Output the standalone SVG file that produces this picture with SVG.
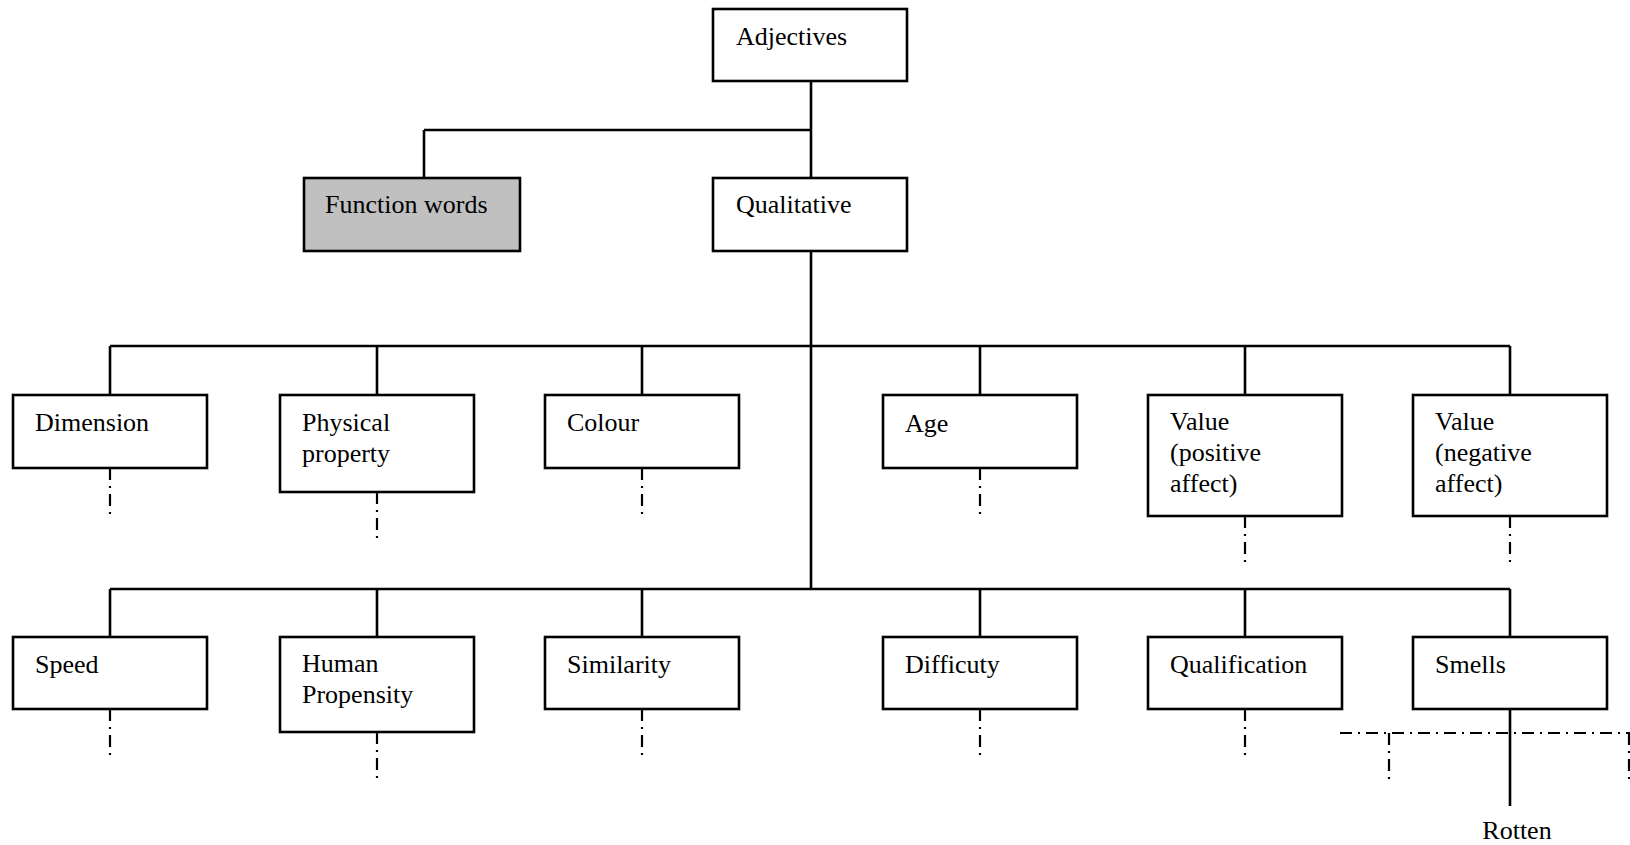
<svg xmlns="http://www.w3.org/2000/svg" width="1630" height="845" viewBox="0 0 1630 845">
<style>
.box{fill:#fff;stroke:#000;stroke-width:2.6}
.grey{fill:#c0c0c0}
.ln{stroke:#000;stroke-width:2.6;fill:none}
.dd{stroke:#000;stroke-width:2.2;fill:none;stroke-dasharray:12 6 2 6}
text{font-family:"Liberation Serif","Times New Roman",serif;font-size:26px;fill:#000}
</style>
<rect width="1630" height="845" fill="#fff"/>
<g id="connectors">
<path class="ln" d="M811 81V178M424 130H811M424 130V178M811 251V589M110 346H1510M110 346V395M377 346V395M642 346V395M980 346V395M1245 346V395M1510 346V395M110 589H1510M110 589V637M377 589V637M642 589V637M980 589V637M1245 589V637M1510 589V637M1510 709V806"/>
<path class="dd" d="M110 468V517M377 492V541M642 468V517M980 468V517M1245 516V565M1510 516V565M110 709V758M377 732V782M642 709V758M980 709V758M1245 709V758M1340 733H1630M1389 733V782M1629 733V782"/>
</g>
<g id="n-adjectives"><rect class="box" x="713" y="9" width="194" height="72"/><text x="736" y="45">Adjectives</text></g>
<g id="n-function"><rect class="box grey" x="304" y="178" width="216" height="73"/><text x="325" y="213">Function words</text></g>
<g id="n-qualitative"><rect class="box" x="713" y="178" width="194" height="73"/><text x="736" y="213">Qualitative</text></g>
<g id="n-dimension"><rect class="box" x="13" y="395" width="194" height="73"/><text x="35" y="431">Dimension</text></g>
<g id="n-physical"><rect class="box" x="280" y="395" width="194" height="97"/><text x="302" y="431">Physical</text><text x="302" y="462">property</text></g>
<g id="n-colour"><rect class="box" x="545" y="395" width="194" height="73"/><text x="567" y="431">Colour</text></g>
<g id="n-age"><rect class="box" x="883" y="395" width="194" height="73"/><text x="905" y="432">Age</text></g>
<g id="n-valuepos"><rect class="box" x="1148" y="395" width="194" height="121"/><text x="1170" y="430">Value</text><text x="1170" y="461">(positive</text><text x="1170" y="492">affect)</text></g>
<g id="n-valueneg"><rect class="box" x="1413" y="395" width="194" height="121"/><text x="1435" y="430">Value</text><text x="1435" y="461">(negative</text><text x="1435" y="492">affect)</text></g>
<g id="n-speed"><rect class="box" x="13" y="637" width="194" height="72"/><text x="35" y="673">Speed</text></g>
<g id="n-human"><rect class="box" x="280" y="637" width="194" height="95"/><text x="302" y="672">Human</text><text x="302" y="703">Propensity</text></g>
<g id="n-similarity"><rect class="box" x="545" y="637" width="194" height="72"/><text x="567" y="673">Similarity</text></g>
<g id="n-difficuty"><rect class="box" x="883" y="637" width="194" height="72"/><text x="905" y="673">Difficuty</text></g>
<g id="n-qualification"><rect class="box" x="1148" y="637" width="194" height="72"/><text x="1170" y="673">Qualification</text></g>
<g id="n-smells"><rect class="box" x="1413" y="637" width="194" height="72"/><text x="1435" y="673">Smells</text></g>
<g id="n-rotten"><text x="1517" y="839" text-anchor="middle">Rotten</text></g>
</svg>
